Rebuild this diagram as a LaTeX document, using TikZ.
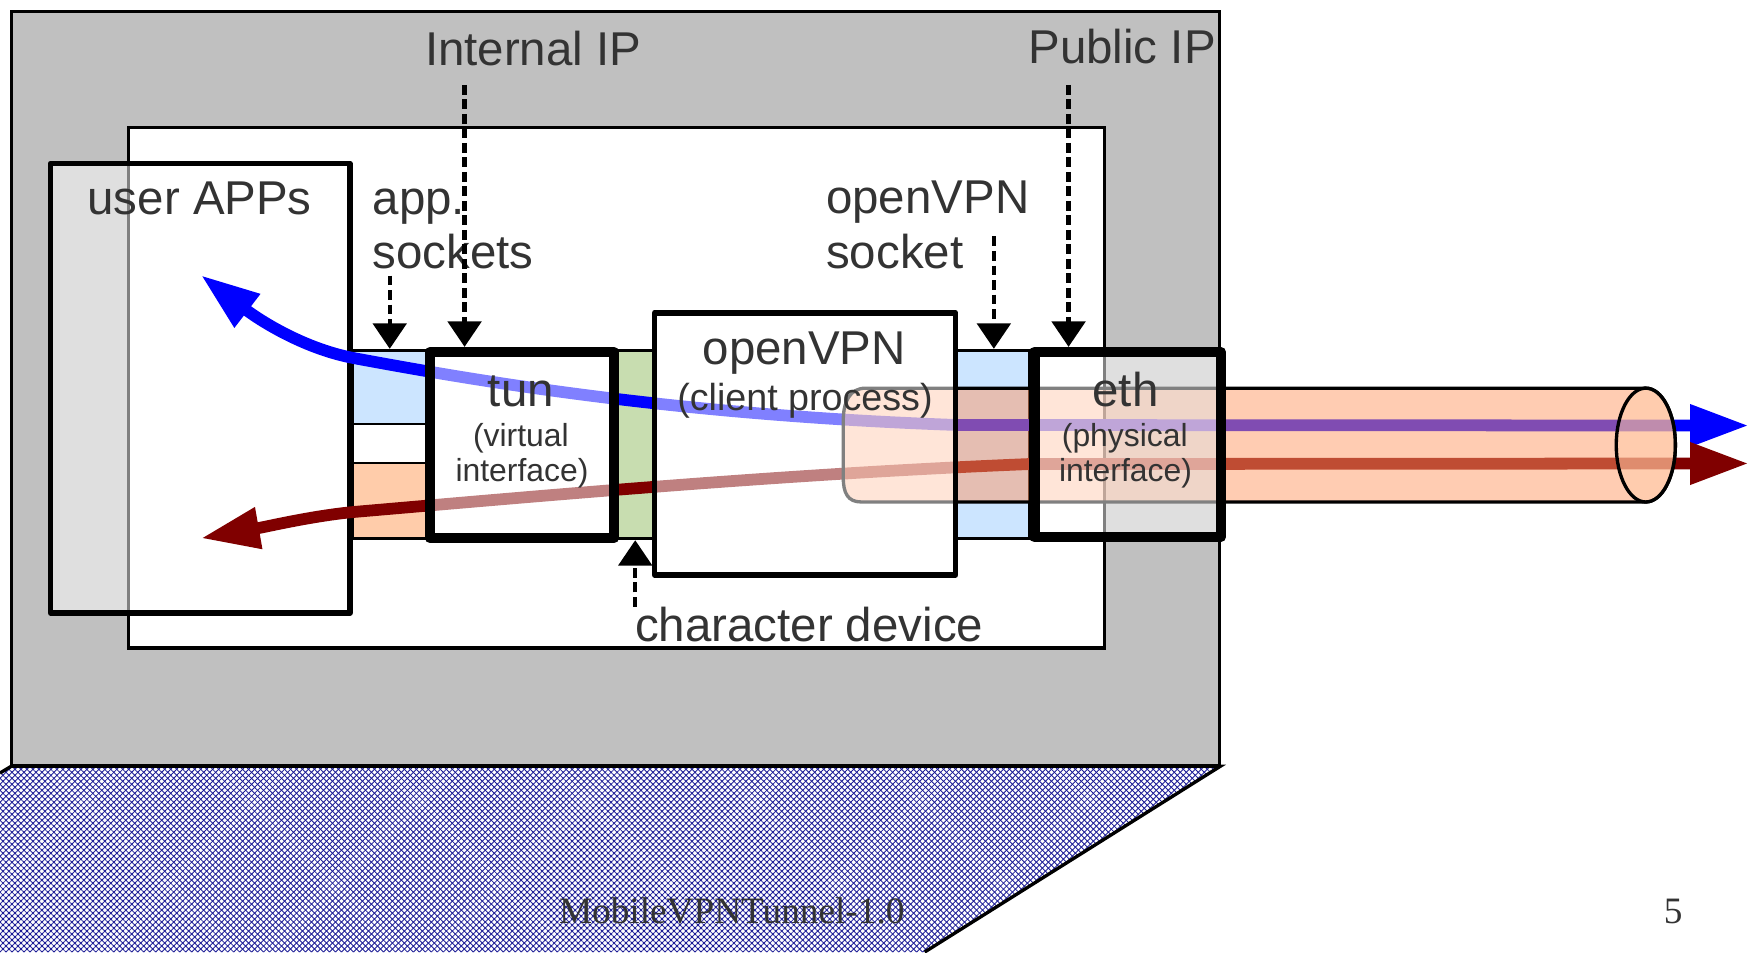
\documentclass[tikz,border=0pt]{standalone}
\usepackage{fontspec}
\setmainfont{Liberation Sans}
\newfontfamily\footserif{Liberation Serif}
\usetikzlibrary{arrows.meta,patterns.meta}
\definecolor{txt}{HTML}{333333}
\definecolor{bggray}{HTML}{C0C0C0}
\definecolor{sockblue}{HTML}{CCE5FF}
\definecolor{sockorange}{HTML}{FFCCAA}
\definecolor{chargreen}{HTML}{C8DDB0}
\definecolor{cylfill}{HTML}{FF9966}
\definecolor{cylface}{HTML}{FFCCAA}
\definecolor{hatchblue}{HTML}{1C1C96}
\definecolor{flowblue}{HTML}{0000FF}
\definecolor{flowred}{HTML}{800000}
\begin{document}
\begin{tikzpicture}[x=0.01cm,y=-0.01cm,
  lbl/.style={inner sep=0pt, text=txt, font=\fontsize{12.1}{14}\selectfont},
  lblmid/.style={inner sep=0pt, text=txt, font=\fontsize{9.6}{11}\selectfont},
  lblsm/.style={inner sep=0pt, text=txt, font=\fontsize{8.13}{10}\selectfont},
  footlbl/.style={inner sep=0pt, text=txt, font=\footserif\fontsize{9.5}{11}\selectfont},
  halfbox/.style={draw=black, fill=white, fill opacity=0.5, inner sep=0pt, line join=round},
  sockbox/.style={draw=black, line width=0.7pt, inner sep=0pt},
  dasharrow/.style={draw=black, line width=1.1pt, dash pattern=on 2.5pt off 1.2pt, -{Triangle[length=6.5pt,width=8.5pt]}},
  flow/.style={line width=3pt, {Triangle[length=15pt,width=10pt]}-{Triangle[length=15pt,width=10pt]}},
]
\useasboundingbox (0,0) rectangle (1568,853.5);

% computer body
\draw[fill=bggray, line width=0.85pt] (10.5,10.5) rectangle (1093.5,686.5);
% keyboard base (hatched)
\fill[white] (10,687) -- (1094,687) -- (829,853.5) -- (0,853.5) -- (0,693) -- cycle;
\fill[pattern={Lines[angle=45,distance=1.08pt,line width=0.22pt]}, pattern color=hatchblue]
  (10,687) -- (1094,687) -- (829,853.5) -- (0,853.5) -- (0,693) -- cycle;
\fill[pattern={Lines[angle=-45,distance=1.08pt,line width=0.22pt]}, pattern color=hatchblue]
  (10,687) -- (1094,687) -- (829,853.5) -- (0,853.5) -- (0,693) -- cycle;
\draw[line width=0.85pt] (0,693) -- (10,687) -- (1094,687) -- (829,853.5);

% inner white area
\draw[fill=white, line width=0.85pt] (115,114) rectangle (990,581);

% user APPs box
\node[halfbox, line width=1.42pt, minimum width=26.8mm, minimum height=40.3mm] (apps) at (179.5,348) {};

% sockets and character device
\node[sockbox, fill=sockblue, minimum width=6.6mm, minimum height=16.9mm] (sockL) at (349,398.5) {};
\fill[white] (316,380) rectangle (382,415);
\fill[sockorange] (316,415) rectangle (382,483);
\draw[line width=0.7pt] (316,380) -- (382,380) (316,415) -- (382,415);
\node[sockbox, minimum width=6.6mm, minimum height=16.9mm] (sockLo) at (349,398.5) {};
\node[sockbox, fill=chargreen, minimum width=3.3mm, minimum height=16.9mm] (chardev) at (569.5,398.5) {};
\node[sockbox, fill=sockblue, minimum width=6.5mm, minimum height=16.9mm] (sockR) at (890.5,398.5) {};

% data flows
\coordinate (bTip) at (180,246.6);
\coordinate (bOut) at (1568,381.5);
\coordinate (rTip) at (180,482.6);
\coordinate (rOut) at (1568,415.5);
\draw[flowblue, flow] (bTip) .. controls (230,285) and (270,312) .. (317,321)
  .. controls (420,340) and (600,372) .. (858,381) -- (bOut);
\draw[flowred, flow] (rTip) .. controls (240,472) and (280,462.5) .. (317,459)
  .. controls (480,445) and (700,425) .. (923,416) -- (rOut);

% tunnel cylinder
\draw[line width=0.85pt, fill=cylfill, fill opacity=0.5] (1475.5,348) -- (776,348) .. controls (762,348) and (756,360) .. (756,377) -- (756,428) .. controls (756,442) and (760,450) .. (772,450) -- (1475.5,450) arc[start angle=-90, end angle=90, x radius=0.265cm, y radius=0.51cm] -- cycle;
\draw[line width=0.85pt, fill=cylface, fill opacity=0.5] (1475.5,399) ellipse [x radius=0.265cm, y radius=0.51cm];

% interfaces and process
\node[halfbox, line width=2.56pt, minimum width=16.5mm, minimum height=16.7mm] (tun) at (468,399) {};
\node[halfbox, line width=1.42pt, minimum width=26.95mm, minimum height=23.5mm] (ovpn) at (721.75,398) {};
\node[halfbox, line width=2.56pt, minimum width=16.7mm, minimum height=16.6mm] (eth) at (1011,398.5) {};

% texts
\node[lbl, anchor=base] (tInternal) at (478,58.9) {Internal IP};
\node[lbl, anchor=base] (tPublic) at (1006,56.8) {Public IP};
\node[lbl, anchor=base] (tApps) at (179,192.7) {user APPs};
\node[lbl, anchor=base west] (tApp) at (333.5,192) {app.};
\node[lbl, anchor=base west] (tSockets) at (333.5,240.6) {sockets};
\node[lbl, anchor=base west] (tOvpnLbl) at (740,191) {openVPN};
\node[lbl, anchor=base west] (tSocket) at (740,240.6) {socket};
\node[lbl, anchor=base] (tOvpn) at (721,327.2) {openVPN};
\node[lblmid, anchor=base] (tClient) at (721.7,367.6) {(client process)};
\node[lbl, anchor=base] (tTun) at (467,364.6) {tun};
\node[lblsm, anchor=base] (tVirt) at (467,400.5) {(virtual};
\node[lblsm, anchor=base] (tIf1) at (468,431.9) {interface)};
\node[lbl, anchor=base] (tEth) at (1009,364.6) {eth};
\node[lblsm, anchor=base] (tPhys) at (1008.4,400.5) {(physical};
\node[lblsm, anchor=base] (tIf2) at (1009,431.9) {interface)};
\node[lbl, anchor=base west] (tChar) at (568.6,575.3) {character device};
\node[footlbl, anchor=base] (tFoot) at (656,827.8) {MobileVPNTunnel-1.0};
\node[footlbl, anchor=base] (tPage) at (1500,827.8) {5};

% pointer arrows
\coordinate (cInternal) at (416.5,76);
\coordinate (cAppSock) at (349.4,247);
\coordinate (cOvpnSock) at (891,212);
\coordinate (cPublic) at (958,76);
\coordinate (cChar) at (569.5,544);
\draw[dasharrow] (cInternal) -- (cInternal |- tun.north);
\draw[dasharrow] (cAppSock) -- (cAppSock |- sockL.north);
\draw[dasharrow] (cOvpnSock) -- (cOvpnSock |- sockR.north);
\draw[dasharrow] (cPublic) -- (cPublic |- eth.north);
\draw[dasharrow] (cChar) -- (cChar |- chardev.south);
\end{tikzpicture}
\end{document}
